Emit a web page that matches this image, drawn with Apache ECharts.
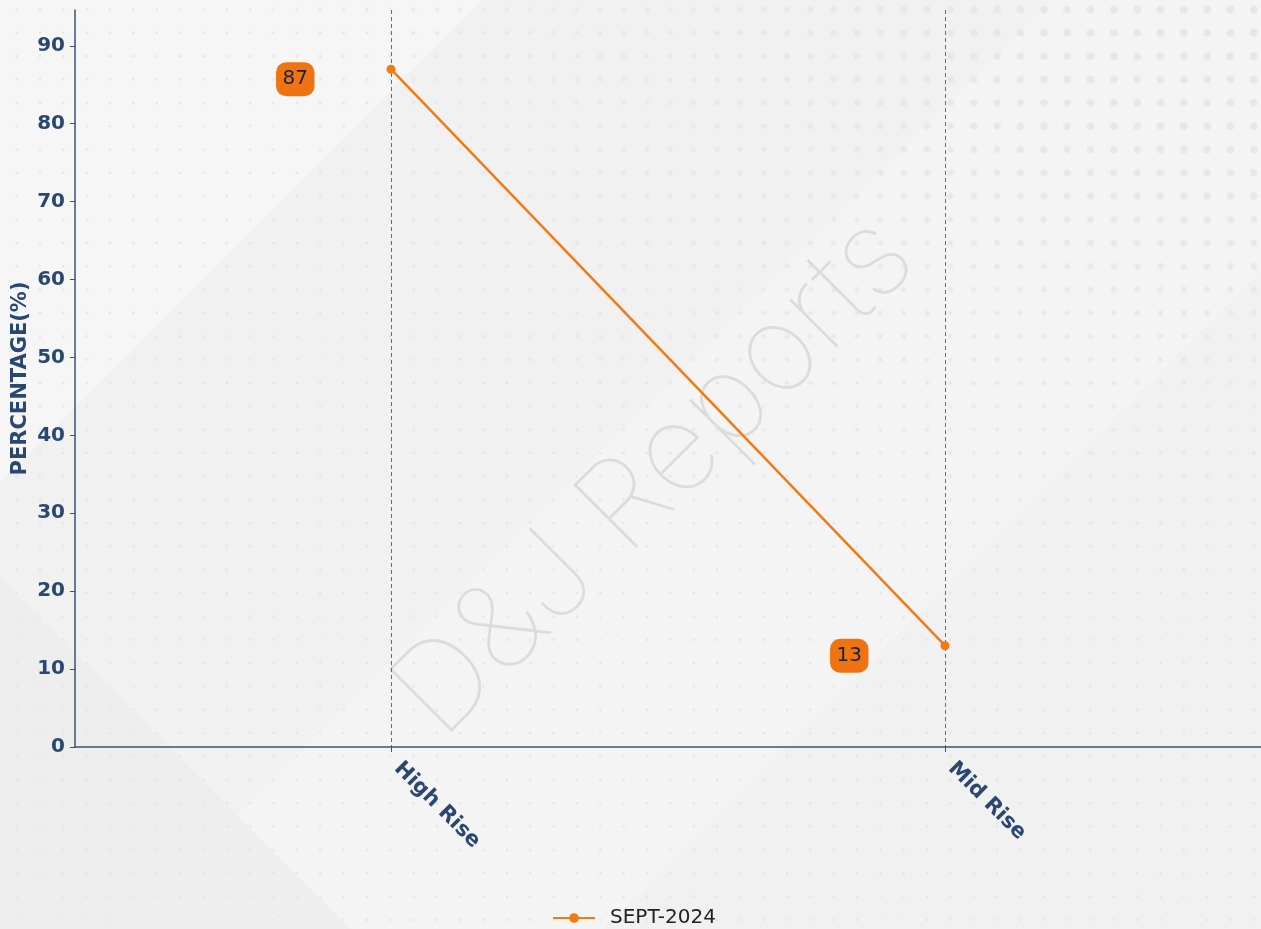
<!DOCTYPE html>
<html>
<head>
<meta charset="utf-8">
<script src="https://cdn.jsdelivr.net/npm/echarts@6/dist/echarts.min.js"></script>
<style>
  html, body { margin:0; padding:0; width:1261px; height:929px; overflow:hidden; }
  #bg { position:absolute; left:0; top:0; width:1261px; height:929px;
        background:
          linear-gradient(45deg, rgba(236,236,236,0.7) 0 16%, rgba(255,255,255,0) 16% 100%),
          linear-gradient(135deg, rgba(246,246,246,1) 0 22%, rgba(241,241,241,1) 22% 48%, rgba(244,244,244,1) 48% 70%, rgba(241,241,241,1) 70% 100%);
  }
  .dots { position:absolute; left:0; top:0; width:1261px; height:929px;
          background-size:23.35px 23.35px; background-position:5px -2.2px; }
  #d1 { background-image: radial-gradient(circle, #e4e4e4 1.1px, rgba(0,0,0,0) 1.6px); }
  #d2 { background-image: radial-gradient(circle, #e7e7e7 2.6px, rgba(0,0,0,0) 3.1px);
        -webkit-mask-image: radial-gradient(ellipse 80% 65% at 100% 0%, #000 0%, rgba(0,0,0,0.8) 40%, rgba(0,0,0,0) 100%);
        mask-image: radial-gradient(ellipse 80% 65% at 100% 0%, #000 0%, rgba(0,0,0,0.8) 40%, rgba(0,0,0,0) 100%); }
  #d3 { background-image: radial-gradient(circle, #e6e6e6 3.8px, rgba(0,0,0,0) 4.3px);
        -webkit-mask-image: radial-gradient(ellipse 40% 35% at 100% 0%, #000 0%, rgba(0,0,0,0.7) 50%, rgba(0,0,0,0) 100%);
        mask-image: radial-gradient(ellipse 40% 35% at 100% 0%, #000 0%, rgba(0,0,0,0.7) 50%, rgba(0,0,0,0) 100%); }
  #main { position:absolute; left:0; top:0; width:1261px; height:929px; }
</style>
</head>
<body>
<div id="bg"></div>
<div class="dots" id="d1"></div>
<div class="dots" id="d2"></div>
<div class="dots" id="d3"></div>
<div id="main"></div>
<script>
const categories = ['High Rise', 'Mid Rise'];
const seriesName = 'SEPT-2024';
const seriesValues = [87, 13];
const yTickLabels = [0, 10, 20, 30, 40, 50, 60, 70, 80, 90];
const yMin = 0;
const yMax = 94.6;
const yAxisName = 'PERCENTAGE(%)';
const watermark = 'D&J Reports';

const axisColor = '#3b5277';
const labelColor = '#2a4772';
const font = 'DejaVu Sans';

const chart = echarts.init(document.getElementById('main'), null, { renderer: 'canvas' });
chart.setOption({
  backgroundColor: 'transparent',
  animation: false,
  textStyle: { fontFamily: font },
  graphic: [{
    type: 'text', x: 655, y: 477, rotation: 0.785, z: -10, silent: true,
    style: { text: watermark, font: '100 122px Inter', fill: '#dcdcdc', align: 'center', verticalAlign: 'middle' }
  }],
  grid: [
    { left: 75, right: 0, top: 10, bottom: 182, outerBoundsMode: 'none', containLabel: false },
    { left: 391, right: 316, top: 10, bottom: 182, outerBoundsMode: 'none', containLabel: false }
  ],
  xAxis: [
    { type: 'value', gridIndex: 0, min: 0, max: 1,
      axisLine: { show: true, lineStyle: { color: axisColor, width: 1.5 } },
      axisTick: { show: false }, axisLabel: { show: false }, splitLine: { show: false } },
    { type: 'category', gridIndex: 1, boundaryGap: false, data: categories,
      axisLine: { show: false },
      axisTick: { show: true, length: 5, lineStyle: { color: axisColor, width: 1 } },
      axisLabel: { rotate: -45, margin: 12, padding: [0, 0, 4, 9], fontSize: 21, fontWeight: 'bold', color: labelColor, fontFamily: font },
      splitLine: { show: true, lineStyle: { color: '#5d6d88', width: 1, type: [4, 3] } } }
  ],
  yAxis: [
    { type: 'value', gridIndex: 0, min: yMin, max: yMax,
      name: yAxisName, nameLocation: 'middle', nameGap: 44, nameMoveOverlap: false,
      nameTextStyle: { fontSize: 21, fontWeight: 'bold', color: labelColor, fontFamily: font },
      axisLine: { show: true, lineStyle: { color: axisColor, width: 1.5 } },
      axisTick: { show: true, length: 5, customValues: yTickLabels, lineStyle: { color: axisColor } },
      axisLabel: { customValues: yTickLabels, margin: 10, fontSize: 20, fontWeight: 'bold', color: labelColor, fontFamily: font },
      splitLine: { show: false } },
    { type: 'value', gridIndex: 1, min: yMin, max: yMax, show: false, splitLine: { show: false } }
  ],
  legend: {
    top: 903, left: 547,
    itemWidth: 42, itemHeight: 12,
    textStyle: { fontSize: 20, color: '#222', fontFamily: font, padding: [0, 0, 0, 10] },
    data: [seriesName]
  },
  series: [{
    name: seriesName, type: 'line', xAxisIndex: 1, yAxisIndex: 1,
    data: seriesValues,
    color: '#f07a14',
    symbol: 'circle', symbolSize: 9,
    lineStyle: { width: 2.5, color: '#f07a14' },
    itemStyle: { color: '#f07a14' },
    label: {
      show: true, position: 'left', distance: 72, offset: [0, 10],
      backgroundColor: '#ef7411', borderRadius: 10, padding: [7, 6.5, 7, 6.5],
      color: '#17233d', fontSize: 20, lineHeight: 20, fontFamily: font
    }
  }]
});
</script>
</body>
</html>
